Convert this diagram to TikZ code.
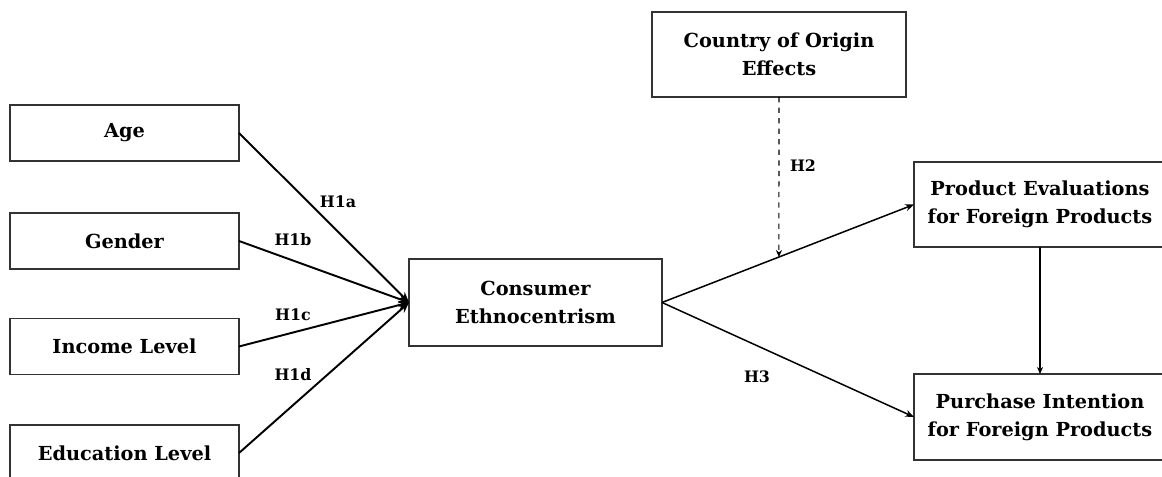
\documentclass[tikz,border=0pt]{standalone}
\usepackage{fontspec}
\setmainfont{DejaVu Serif}
\usetikzlibrary{calc,arrows.meta}
\tikzset{
  varbox/.style={draw=black!80, line width=0.6pt, inner sep=0pt, outer sep=0pt, align=center, font=\bfseries\fontsize{11}{16}\selectfont},
  hlabel/.style={inner sep=0pt, font=\bfseries\fontsize{9}{10}\selectfont},
  thickarrow/.style={line width=1.1pt, -{Stealth[length=6pt,width=5pt]}},
  thinarrow/.style={line width=0.85pt, -{Stealth[length=5pt,width=4pt]}}
}

\begin{document}
\begin{tikzpicture}
			%%%%% START %%%%%
			
			\useasboundingbox (0, 0) rectangle (23.24, 9.52);
			
			\node[varbox, minimum width=4.58cm, minimum height=1.12cm] (age) at (2.49, 6.86) {Age};
			\node[varbox, minimum width=4.58cm, minimum height=1.12cm] (gender) at (2.49, 4.70) {Gender};
			\node[varbox, minimum width=4.58cm, minimum height=1.12cm] (income) at (2.49, 2.59) {Income Level};
			\node[varbox, minimum width=4.58cm, minimum height=1.12cm] (education) at (2.49, 0.46) {Education Level};
			
			\node[varbox, minimum width=5.06cm, minimum height=1.74cm] (ce) at (10.71, 3.47) {Consumer\\Ethnocentrism};
			\node[varbox, minimum width=5.08cm, minimum height=1.70cm] (coo) at (15.58, 8.43) {Country of Origin\\Effects};
			\node[varbox, minimum width=5.04cm, minimum height=1.70cm] (pe) at (20.80, 5.43) {Product Evaluations\\for Foreign Products};
			\node[varbox, minimum width=5.04cm, minimum height=1.72cm] (pi) at (20.80, 1.18) {Purchase Intention\\for Foreign Products};
			
			\draw[thickarrow] (age.east) -- (ce.west);
			\draw[thickarrow] (gender.east) -- (ce.west);
			\draw[thickarrow] (income.east) -- (ce.west);
			\draw[thickarrow] (education.east) -- (ce.west);
			
			\draw[thinarrow] (ce.east) -- (pe.west);
			\draw[thinarrow] (ce.east) -- (pi.west);
			\draw[line width=0.6pt, -{Stealth[length=4pt,width=3.5pt]}] (pe.south) -- (pi.north);
			
			\coordinate (moderate) at ($(ce.east)!0.464!(pe.west)$);
			\draw[line width=0.6pt, dashed, -{Stealth[length=4pt,width=3.5pt]}] (coo.south) -- (moderate);
			
			\node[hlabel] (h1a) at (6.76, 5.48) {H1a};
			\node[hlabel] (h1b) at (5.86, 4.72) {H1b};
			\node[hlabel] (h1c) at (5.86, 3.22) {H1c};
			\node[hlabel] (h1d) at (5.86, 2.02) {H1d};
			\node[hlabel] (h2) at (16.06, 6.20) {H2};
			\node[hlabel] (h3) at (15.14, 1.98) {H3};
			
			%%%%% END %%%%%
\end{tikzpicture}
\end{document}
